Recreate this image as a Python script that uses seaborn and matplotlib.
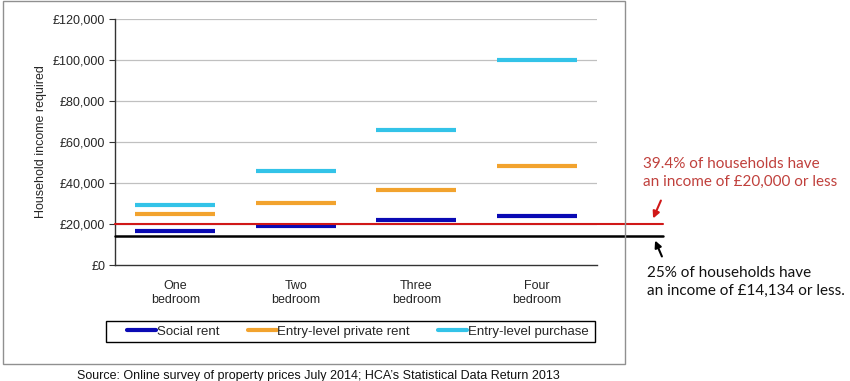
import pandas as pd
import matplotlib
matplotlib.use("Agg")
import matplotlib.pyplot as plt
import seaborn as sns
from matplotlib.lines import Line2D
from matplotlib.patches import Rectangle, FancyArrowPatch

# === Data ===
categories = ["One\nbedroom", "Two\nbedroom", "Three\nbedroom", "Four\nbedroom"]
social_rent = [16600, 19000, 22100, 24000]
private_rent = [24700, 30100, 36600, 48400]
purchase = [29100, 45700, 66000, 100100]
series_names = ["Social rent", "Entry-level private rent", "Entry-level purchase"]
colors = ["#0a0ab4", "#f2a32e", "#33c3e8"]
income_20 = 20000
income_lq = 14134
y_ticks = [0, 20000, 40000, 60000, 80000, 100000, 120000]

df = pd.DataFrame({
    "category": categories * 3,
    "series": [s for s in series_names for _ in categories],
    "value": social_rent + private_rent + purchase,
})

# === Style ===
sns.set_style("white")
plt.rcParams["font.family"] = ["Liberation Sans", "DejaVu Sans"]

fig = plt.figure(figsize=(8.5, 3.81), dpi=100)
ax = fig.add_axes([115 / 850, 1 - 265 / 381, (597 - 115) / 850, (265 - 19) / 381])

# dashes as wide '_' markers on the category scale
cat_px = (597 - 115) / 4
sns.pointplot(data=df, x="category", y="value", hue="series", palette=colors,
              markers="_", linestyles="none", errorbar=None, dodge=False,
              markersize=cat_px * 0.66 * 72 / 100, markeredgewidth=3.0,
              legend=False, ax=ax, zorder=3)

ax.set_xlim(-0.5, 3.5)
ax.set_ylim(0, 120000)
ax.set_yticks(y_ticks)
ax.set_yticklabels([f"£{v:,}" for v in y_ticks], fontsize=9)
ax.set_xticks(range(4))
ax.set_xticklabels(categories, fontsize=9)
ax.set_xticks([i - 0.5 for i in range(5)], minor=True)
ax.tick_params(axis="x", which="major", length=0, pad=11)
ax.tick_params(axis="x", which="minor", length=4, direction="out", color="#333333")
ax.tick_params(axis="y", length=4, direction="out", color="#333333", pad=3, left=True)
ax.set_xlabel("")
ax.set_ylabel("Household income required", fontsize=9)
for sp in ["top", "right"]:
    ax.spines[sp].set_visible(False)
for sp in ["left", "bottom"]:
    ax.spines[sp].set_color("#333333")
    ax.spines[sp].set_linewidth(1.0)
for v in y_ticks[1:]:
    ax.axhline(v, color="#c0c0c0", lw=0.9, zorder=1)

# reference lines extending past the axes
ext = (663 - 115) / (597 - 115)
ax.axhline(income_20, xmin=0, xmax=ext, color="#d01818", lw=1.5, clip_on=False, zorder=4)
ax.axhline(income_lq, xmin=0, xmax=ext, color="black", lw=1.8, clip_on=False, zorder=4)

# annotations
ann_font = ["Lato", "DejaVu Sans"]
fig.text(643 / 850, 1 - 173 / 381, "39.4% of households have\nan income of £20,000 or less",
         color="#c0403c", fontsize=11, family=ann_font, va="center", ha="left", linespacing=1.35)
fig.text(647 / 850, 1 - 282 / 381, "25% of households have\nan income of £14,134 or less.",
         color="#111111", fontsize=11, family=ann_font, va="center", ha="left", linespacing=1.35)
fig.add_artist(FancyArrowPatch(
    (662 / 850, 1 - 198 / 381), (652 / 850, 1 - 221 / 381), transform=fig.transFigure,
    arrowstyle="-|>", mutation_scale=10, color="#d01818", lw=1.5))
fig.add_artist(FancyArrowPatch(
    (663 / 850, 1 - 259 / 381), (654 / 850, 1 - 238 / 381), transform=fig.transFigure,
    arrowstyle="-|>", mutation_scale=10, color="black", lw=1.5))

# legend (frame drawn separately so entries get inner padding)
handles = [Line2D([], [], color=c, lw=3) for c in colors]
fig.legend(handles, series_names, loc="center", ncol=3, fontsize=9.5,
           bbox_to_anchor=(124 / 850, 1 - 342 / 381, 468 / 850, 21 / 381),
           mode="expand", frameon=False,
           handlelength=2.2, handletextpad=0.05, borderpad=0.25, borderaxespad=0)
fig.add_artist(Rectangle((106 / 850, 1 - 342 / 381), 489 / 850, 21 / 381,
                         transform=fig.transFigure, fill=False, edgecolor="black", lw=1.0))

# outer chart frame and source line
fig.add_artist(Rectangle((3 / 850, 1 - 364 / 381), 622 / 850, 363 / 381,
                         transform=fig.transFigure, fill=False, edgecolor="#909090", lw=1.0))
fig.text(77 / 850, 1 - 376 / 381,
         "Source: Online survey of property prices July 2014; HCA\u2019s Statistical Data Return 2013",
         fontsize=9, va="center", ha="left", color="#111111")

fig.savefig("out.png", dpi=100)
